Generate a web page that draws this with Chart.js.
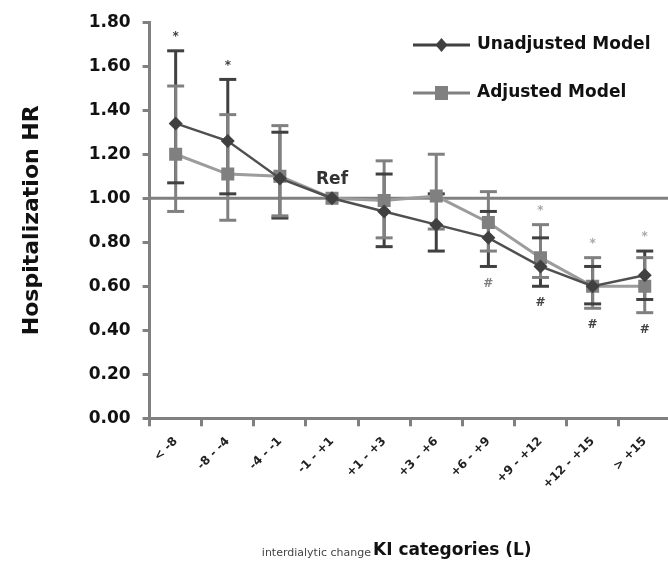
<!DOCTYPE html>
<html><head><meta charset="utf-8">
<script src="https://cdn.jsdelivr.net/npm/chart.js@4.4.1/dist/chart.umd.min.js"></script>
<style>html,body{margin:0;padding:0;background:#fff;overflow:hidden;width:668px;height:563px}canvas{display:block}</style>
</head><body><canvas id="c" width="680" height="563"></canvas>
<script>
// ---- data ----
const categories = ['< -8', '-8 - -4', '-4 - -1', '-1 - +1', '+1 - +3', '+3 - +6', '+6 - +9', '+9 - +12', '+12 - +15', '> +15'];
const unadjusted = [1.34, 1.26, 1.09, 1.00, 0.94, 0.88, 0.82, 0.69, 0.60, 0.65];
const unadjLow   = [1.07, 1.02, 0.91, null, 0.78, 0.76, 0.69, 0.60, 0.52, 0.54];
const unadjHigh  = [1.67, 1.54, 1.30, null, 1.11, 1.02, 0.94, 0.82, 0.69, 0.76];
const adjusted   = [1.20, 1.11, 1.10, 1.00, 0.99, 1.01, 0.89, 0.73, 0.60, 0.60];
const adjLow     = [0.94, 0.90, 0.92, null, 0.82, 0.86, 0.76, 0.64, 0.50, 0.48];
const adjHigh    = [1.51, 1.38, 1.33, null, 1.17, 1.20, 1.03, 0.88, 0.73, 0.73];
const unadjMarks = ['*', '*', '', '', '', '', '', '#', '#', '#'];
const adjMarks   = ['', '', '', '', '', '', '#', '*', '*', '*'];
const yTickLabels = ['0.00', '0.20', '0.40', '0.60', '0.80', '1.00', '1.20', '1.40', '1.60', '1.80'];
const refValue = 1.00;
const refIndex = 3;
const seriesNames = ['Unadjusted Model', 'Adjusted Model'];
const yTitle = 'Hospitalization HR';
const xTitleSmall = 'interdialytic change';
const xTitleMain = 'KI categories (L)';

// ---- style ----
const FONT = 'DejaVu Sans';
const DARK = '#404040', GRAY = '#808080', LIGHT = '#a8a8a8';

const extras = {
  id: 'extras',
  beforeDatasetsDraw(chart) {
    const {ctx, scales: {x, y}, chartArea} = chart;
    ctx.save();
    ctx.lineCap = 'butt';
    ctx.strokeStyle = GRAY; ctx.lineWidth = 3;
    const yr = y.getPixelForValue(refValue);
    ctx.beginPath(); ctx.moveTo(chartArea.left, yr); ctx.lineTo(chartArea.right, yr); ctx.stroke();
    const series = [{lo: unadjLow, hi: unadjHigh, color: DARK}, {lo: adjLow, hi: adjHigh, color: GRAY}];
    series.forEach(s => {
      ctx.strokeStyle = s.color; ctx.lineWidth = 3;
      categories.forEach((c, i) => {
        if (s.lo[i] == null) return;
        const px = x.getPixelForValue(i);
        ctx.beginPath(); ctx.moveTo(px, y.getPixelForValue(s.lo[i])); ctx.lineTo(px, y.getPixelForValue(s.hi[i])); ctx.stroke();
      });
    });
    series.forEach(s => {
      ctx.strokeStyle = s.color; ctx.lineWidth = 3;
      categories.forEach((c, i) => {
        if (s.lo[i] == null) return;
        const px = x.getPixelForValue(i);
        [s.lo[i], s.hi[i]].forEach(v => {
          const py = y.getPixelForValue(v);
          ctx.beginPath(); ctx.moveTo(px - 8.5, py); ctx.lineTo(px + 8.5, py); ctx.stroke();
        });
      });
    });
    ctx.restore();
  },
  afterDatasetsDraw(chart) {
    const {ctx, scales: {x, y}} = chart;
    ctx.save();
    ctx.textAlign = 'center'; ctx.textBaseline = 'middle';
    ctx.font = 'bold 12px ' + FONT;
    categories.forEach((c, i) => {
      const px = x.getPixelForValue(i);
      const his = [unadjHigh[i], adjHigh[i]].filter(v => v != null);
      const los = [unadjLow[i], adjLow[i]].filter(v => v != null);
      const top = y.getPixelForValue(Math.max(...his));
      const bot = y.getPixelForValue(Math.min(...los));
      [[unadjMarks[i], DARK], [adjMarks[i], LIGHT]].forEach(([m, col]) => {
        if (!m) return;
        ctx.fillStyle = (m === '#' && col === LIGHT) ? GRAY : col;
        if (m === '*') ctx.fillText(m, px, top - 14);
        else ctx.fillText(m, px, bot + 17);
      });
    });
    ctx.fillStyle = '#333'; ctx.font = 'bold 17px ' + FONT;
    ctx.fillText('Ref', x.getPixelForValue(refIndex), y.getPixelForValue(refValue) - 19);
    const items = [{name: seriesNames[0], color: DARK, style: 'diamond', y: 45},
                   {name: seriesNames[1], color: GRAY, style: 'square', y: 93}];
    items.forEach(it => {
      ctx.strokeStyle = it.color; ctx.lineWidth = 3;
      ctx.beginPath(); ctx.moveTo(413, it.y); ctx.lineTo(470, it.y); ctx.stroke();
      ctx.fillStyle = it.color;
      const cx = 441.5;
      if (it.style === 'diamond') {
        ctx.beginPath(); ctx.moveTo(cx, it.y - 7); ctx.lineTo(cx + 6, it.y); ctx.lineTo(cx, it.y + 7); ctx.lineTo(cx - 6, it.y); ctx.closePath(); ctx.fill();
      } else {
        ctx.fillRect(cx - 6.5, it.y - 7, 13, 14);
      }
      ctx.fillStyle = '#111'; ctx.font = 'bold 17px ' + FONT; ctx.textAlign = 'left';
      ctx.fillText(it.name, 477, it.y);
    });
    ctx.textBaseline = 'alphabetic';
    ctx.textAlign = 'right'; ctx.fillStyle = '#444'; ctx.font = '11px ' + FONT;
    ctx.fillText(xTitleSmall, 371, 556);
    ctx.textAlign = 'left'; ctx.fillStyle = '#111'; ctx.font = 'bold 17px ' + FONT;
    ctx.fillText(xTitleMain, 373, 555);
    ctx.restore();
  }
};

new Chart(document.getElementById('c'), {
  type: 'line',
  data: {
    labels: categories,
    datasets: [
      {label: seriesNames[0], data: unadjusted, borderColor: '#505050', borderWidth: 2.5,
       pointStyle: 'rectRot', pointRadius: 7, pointBackgroundColor: DARK, pointBorderColor: DARK, pointBorderWidth: 0},
      {label: seriesNames[1], data: adjusted, borderColor: '#9c9c9c', borderWidth: 3,
       pointStyle: 'rect', pointRadius: 9.2, pointBackgroundColor: GRAY, pointBorderColor: GRAY, pointBorderWidth: 0}
    ]
  },
  options: {
    responsive: false, animation: false, devicePixelRatio: 1,
    layout: {padding: {left: 0, top: 19.6, right: 1.8, bottom: 0}},
    plugins: {legend: {display: false}, tooltip: {enabled: false}},
    scales: {
      x: {
        type: 'category', offset: true,
        grid: {offset: true, drawOnChartArea: false, drawTicks: true, tickLength: 8, tickColor: GRAY, tickWidth: 3},
        border: {display: true, color: GRAY, width: 3},
        ticks: {minRotation: 45, maxRotation: 45, autoSkip: false, color: '#222', padding: 8,
                font: {family: FONT, size: 12, weight: 'bold'}},
        afterFit(s) { s.height = 144.7; }
      },
      y: {
        min: 0, max: 1.8,
        ticks: {stepSize: 0.2, color: '#111', padding: 12, font: {family: FONT, size: 17, weight: 'bold'},
                callback: (v, i) => yTickLabels[i]},
        grid: {drawOnChartArea: false, drawTicks: true, tickLength: 7, tickColor: GRAY, tickWidth: 3},
        border: {display: true, color: GRAY, width: 3},
        title: {display: true, text: yTitle, color: '#111', font: {family: FONT, size: 22, weight: 'bold'}, padding: {top: 19, bottom: 0}},
        afterFit(s) { s.width = 149.6; }
      }
    }
  },
  plugins: [extras]
});
</script>
</body></html>
